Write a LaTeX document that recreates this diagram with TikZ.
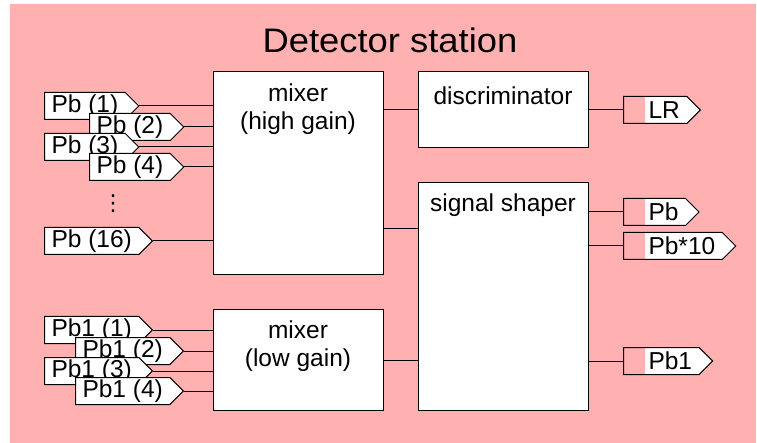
\documentclass[tikz,border=0pt]{standalone}
\usepackage{fontspec}
\setmainfont{Liberation Sans}
\newfontfamily\symfont{DejaVu Sans}
\usetikzlibrary{shapes.symbols,calc}
\definecolor{stationpink}{RGB}{255,176,176}
\newcommand{\tagfont}{\fontsize{24.5}{28.5}\selectfont}
\tikzset{
  unit/.style={draw, fill=white, line width=1pt, rectangle, minimum width=170pt, inner sep=0pt},
  boxtext/.style={anchor=north, font=\tagfont, align=center, inner sep=0pt},
  intag/.style={signal, signal to=east, signal pointer angle=90, draw, fill=white,
    line width=1pt, font=\tagfont, minimum height=27pt, inner xsep=7pt, inner ysep=0pt, anchor=west},
  outtag/.style={intag, execute at begin node={\hspace*{18pt}},
    path picture={\fill[stationpink] (path picture bounding box.south west)
      rectangle ([xshift=21pt]path picture bounding box.north west);}},
  wire/.style={line width=1pt},
}
\begin{document}
\begin{tikzpicture}[x=1pt,y=-1pt]
\useasboundingbox (0,0) rectangle (757,443);
\fill[stationpink] (10,4) rectangle (756,443);

\node[font=\fontsize{34}{40}\selectfont] (title) at (390,40) {\scalebox{1.07}[1]{Detector station}};

% processing units
\node[unit, minimum height=203pt, label={[boxtext, yshift=-12pt]north:{mixer\\(high gain)}}] (mixH) at (298,173.5) {};
\node[unit, minimum height=76pt, label={[boxtext, yshift=-15pt]north:discriminator}] (disc) at (503,110) {};
\node[unit, minimum height=227pt, label={[boxtext, yshift=-11pt]north:signal shaper}] (shaper) at (503,296.5) {};
\node[unit, minimum height=100pt, label={[boxtext, yshift=-11pt]north:{mixer\\(low gain)}}] (mixL) at (298,360) {};

% high-gain inputs
\node[intag] (pb1) at (44,106) {Pb (1)};
\node[intag] (pb2) at (89,127) {Pb (2)};
\node[intag] (pb3) at (44,147) {Pb (3)};
\node[intag] (pb4) at (89,167) {Pb (4)};
\node[intag] (pb16) at (44,241) {Pb (16)};
\node[font=\symfont\fontsize{22}{24}\selectfont, inner sep=0pt] (vdots) at (113,204) {⋮};
\foreach \n in {pb1,pb2,pb3,pb4,pb16}
  \draw[wire] (\n.east) -- (\n.east -| mixH.west);

% low-gain inputs
\node[intag] (pbl1) at (44,330) {Pb1 (1)};
\node[intag] (pbl2) at (75,351) {Pb1 (2)};
\node[intag] (pbl3) at (44,371) {Pb1 (3)};
\node[intag] (pbl4) at (75,391) {Pb1 (4)};
\foreach \n in {pbl1,pbl2,pbl3,pbl4}
  \draw[wire] (\n.east) -- (\n.east -| mixL.west);

% internal connections
\draw[wire] (disc.west -| mixH.east) -- (disc.west);
\draw[wire] ([yshift=-157pt]mixH.north east) -- ([yshift=-157pt]mixH.north east -| shaper.west);
\draw[wire] (mixL.east) -- (mixL.east -| shaper.west);

% outputs
\node[outtag] (outLR) at (623,110) {LR};
\node[outtag] (outPb) at (623,212) {Pb};
\node[outtag] (outPbx) at (623,246) {Pb*10};
\node[outtag] (outPbl) at (623,361) {Pb1};
\draw[wire] (outLR.west -| disc.east) -- (outLR.west);
\foreach \n in {outPb,outPbx,outPbl}
  \draw[wire] (\n.west -| shaper.east) -- (\n.west);
\end{tikzpicture}
\end{document}
